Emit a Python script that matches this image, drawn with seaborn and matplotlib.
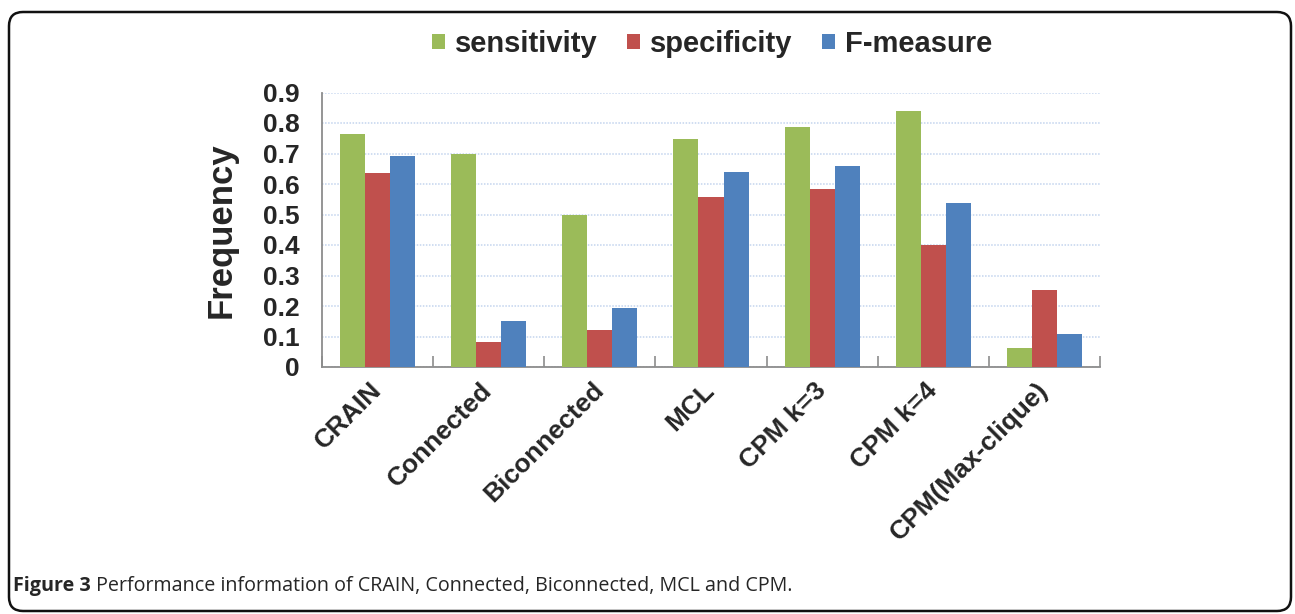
import matplotlib
matplotlib.use("Agg")
import matplotlib.pyplot as plt
from matplotlib.patches import FancyBboxPatch
from matplotlib.ticker import FixedLocator, MultipleLocator
import pandas as pd
import seaborn as sns

# Clustering methods and their scores
methods = ["CRAIN", "Connected", "Biconnected", "MCL", "CPM k=3", "CPM k=4", "CPM(Max-clique)"]
sensitivity = [0.764, 0.700, 0.500, 0.749, 0.788, 0.840, 0.063]
specificity = [0.635, 0.083, 0.121, 0.557, 0.583, 0.399, 0.251]
f_measure = [0.692, 0.151, 0.192, 0.640, 0.658, 0.539, 0.107]
metrics = ["sensitivity", "specificity", "F-measure"]
colors = ["#9BBB59", "#C0504D", "#4F81BD"]
y_ticks = [0, 0.1, 0.2, 0.3, 0.4, 0.5, 0.6, 0.7, 0.8, 0.9]
caption_bold = "Figure 3"
caption_text = " Performance information of CRAIN, Connected, Biconnected, MCL and CPM."

df = pd.DataFrame({
    "method": methods * 3,
    "metric": [m for m in metrics for _ in methods],
    "value": sensitivity + specificity + f_measure,
})

sns.set_theme(style="white")
plt.rcParams["font.family"] = ["Liberation Sans", "DejaVu Sans"]

W, H = 1295, 614
fig = plt.figure(figsize=(W / 100, H / 100), dpi=100)
fig.patch.set_facecolor("white")

# Pixel-space overlay for the rounded frame
bg = fig.add_axes([0, 0, 1, 1], zorder=-1)
bg.set_xlim(0, W)
bg.set_ylim(H, 0)
bg.axis("off")
bg.add_patch(FancyBboxPatch((9, 12), 1282, 599,
                            boxstyle="round,pad=0,rounding_size=14",
                            fc="white", ec="#111111", lw=1.8))

ax = fig.add_axes([322 / W, 1 - 367 / H, (1100 - 322) / W, (367 - 92.5) / H])
ax.set_facecolor("none")
sns.barplot(data=df, x="method", y="value", hue="metric", palette=colors,
            saturation=1, width=0.675, gap=0, ax=ax, legend=True, zorder=3,
            edgecolor="none", errorbar=None)

ax.set_ylim(0, 0.9)
ax.set_xlim(-0.5, len(methods) - 0.5)
ax.yaxis.set_major_locator(FixedLocator(y_ticks))
ax.set_yticklabels(["0" if v == 0 else f"{v:.1f}" for v in y_ticks],
                   fontsize=19, fontweight="bold")
ax.grid(axis="y", color="#C3D4EE", linestyle=(0, (1, 1)), linewidth=1.1, zorder=0)
ax.grid(axis="x", visible=False)
ax.tick_params(axis="y", length=0, pad=16)

ax.set_xticks(range(len(methods)))
ax.set_xticklabels(methods, rotation=45, ha="right", va="center",
                   rotation_mode="anchor", fontsize=19, fontweight="bold")
ax.tick_params(axis="x", which="major", length=0, pad=14)
ax.xaxis.set_minor_locator(MultipleLocator(1, offset=0.5))
ax.tick_params(axis="x", which="minor", direction="in", length=8,
               width=1.2, color="#8C8C8C", bottom=True)

for side in ["top", "right"]:
    ax.spines[side].set_visible(False)
for side in ["left", "bottom"]:
    ax.spines[side].set_color("#8C8C8C")
    ax.spines[side].set_linewidth(1.3)

ax.set_xlabel("")
ax.set_ylabel("Frequency", fontsize=25, fontweight="bold", labelpad=18)

handles, labels = ax.get_legend_handles_labels()
ax.get_legend().remove()
fig.legend(handles, labels, loc="center", bbox_to_anchor=(712 / W, 1 - 44 / H),
           ncol=3, frameon=False, prop={"size": 21, "weight": "bold"},
           handlelength=0.45, handleheight=0.45, handletextpad=0.35,
           columnspacing=1.0)

# Caption: bold figure number followed by regular text
fig.canvas.draw()
renderer = fig.canvas.get_renderer()
t1 = fig.text(13 / W, 1 - 586 / H, caption_bold, fontsize=14.2, fontweight="bold",
              family=["Open Sans", "DejaVu Sans"], va="center", ha="left")
bb = t1.get_window_extent(renderer=renderer)
fig.text(bb.x1 / W, 1 - 586 / H, caption_text, fontsize=14.2,
         family=["Open Sans", "DejaVu Sans"], va="center", ha="left")

fig.savefig("out.png", dpi=100, facecolor="white")
